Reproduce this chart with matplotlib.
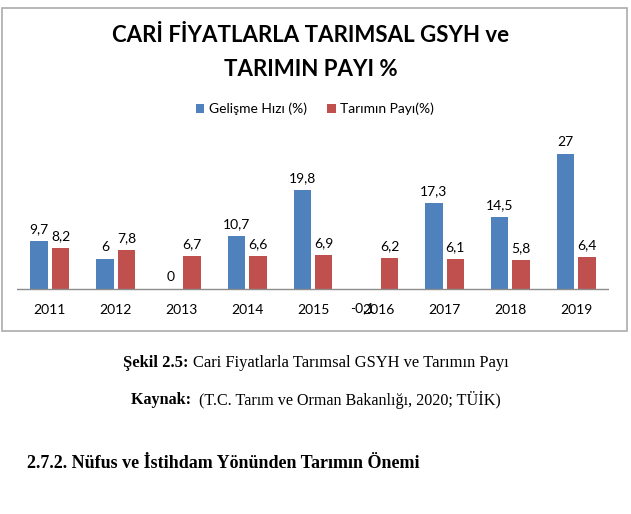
import matplotlib
matplotlib.use("Agg")
import matplotlib.pyplot as plt
from matplotlib.patches import Rectangle, Patch
import numpy as np

years = ["2011", "2012", "2013", "2014", "2015", "2016", "2017", "2018", "2019"]
gelisme = [9.7, 6, 0, 10.7, 19.8, -0.1, 17.3, 14.5, 27]
tarim_payi = [8.2, 7.8, 6.7, 6.6, 6.9, 6.2, 6.1, 5.8, 6.4]
series_names = ["Gelişme Hızı (%)", "Tarımın Payı(%)"]
title_lines = ["CARİ FİYATLARLA TARIMSAL GSYH ve", "TARIMIN PAYI %"]

W, H = 631, 514
DPI = 100
fig = plt.figure(figsize=(W / DPI, H / DPI), dpi=DPI)
fig.patch.set_facecolor("white")

FONT = "Lato"
SERIF = "Liberation Serif"
BLUE = "#4F81BD"
RED = "#C0504D"

def fx(px):
    return px / W

def fy(py):
    return 1 - py / H

# chart box
fig.patches.append(Rectangle((fx(2), fy(331)), fx(627) - fx(2), fy(8) - fy(331),
                             transform=fig.transFigure, fill=False,
                             edgecolor="#ababab", linewidth=1.2, zorder=0))

# axes: x from 17 to 609 px; y baseline at 289 px, 5 px per unit
ax_top, ax_bot = 145, 300
ax = fig.add_axes([fx(17), fy(ax_bot), fx(609) - fx(17), (ax_bot - ax_top) / H])
ax.set_xlim(-0.5, len(years) - 0.5)
ax.set_ylim(-(ax_bot - 289) / 5.0, (289 - ax_top) / 5.0)
ax.set_facecolor("none")
for s in ax.spines.values():
    s.set_visible(False)
ax.set_yticks([])

x = np.arange(len(years))
bw = 0.265
off = 0.163
ax.bar(x - off, gelisme, width=bw, color=BLUE, zorder=2)
ax.bar(x + off, tarim_payi, width=bw, color=RED, zorder=2)
ax.axhline(0, color="#8c8c8c", linewidth=1.0, zorder=3)

ax.set_xticks(x)
ax.set_xticklabels(years, fontfamily=FONT, fontsize=10)
ax.tick_params(axis="x", length=0, pad=3)

def fmt(v):
    return ("%g" % v).replace(".", ",")

for xi, v in zip(x - off, gelisme):
    if v < 0:
        ax.annotate(fmt(v), (xi, 0), xytext=(-4, -14), textcoords="offset points",
                    ha="center", va="center", fontfamily=FONT, fontsize=10, zorder=1)
    else:
        ax.annotate(fmt(v), (xi, v), xytext=(0, 4), textcoords="offset points",
                    ha="center", va="bottom", fontfamily=FONT, fontsize=10)
for xi, v in zip(x + off, tarim_payi):
    ax.annotate(fmt(v), (xi, v), xytext=(0, 4), textcoords="offset points",
                ha="center", va="bottom", fontfamily=FONT, fontsize=10)

# title
fig.text(fx(311), fy(36), title_lines[0], ha="center", va="center",
         fontfamily=FONT, fontweight="bold", fontsize=16)
fig.text(fx(311), fy(69), title_lines[1], ha="center", va="center",
         fontfamily=FONT, fontweight="bold", fontsize=16)

# legend
handles = [Patch(facecolor=BLUE), Patch(facecolor=RED)]
fig.legend(handles, series_names, loc="center", bbox_to_anchor=(fx(315), fy(109)),
           ncol=2, frameon=False, handlelength=0.6, handleheight=0.6,
           handletextpad=0.3, columnspacing=1.5,
           prop={"family": FONT, "size": 10})

# captions below the chart
renderer = fig.canvas.get_renderer()

def mixed_line(parts, cx, cy, size):
    texts = []
    for txt, weight in parts:
        t = fig.text(0, fy(cy), txt, ha="left", va="center", fontfamily=SERIF,
                     fontweight=weight, fontsize=size)
        texts.append(t)
    widths = [t.get_window_extent(renderer).width for t in texts]
    total = sum(widths)
    start = cx - total / 2
    for t, w in zip(texts, widths):
        t.set_x(fx(start))
        start += w

mixed_line([("Şekil 2.5: ", "bold"), ("Cari Fiyatlarla Tarımsal GSYH ve Tarımın Payı", "normal")],
           316, 363, 11.9)
mixed_line([("Kaynak:  ", "bold"), ("(T.C. Tarım ve Orman Bakanlığı, 2020; TÜİK)", "normal")],
           316, 400, 11.6)
fig.text(fx(27), fy(463), "2.7.2. Nüfus ve İstihdam Yönünden Tarımın Önemi", ha="left",
         va="center", fontfamily=SERIF, fontweight="bold", fontsize=13)

fig.savefig("out.png", dpi=DPI, facecolor="white")
